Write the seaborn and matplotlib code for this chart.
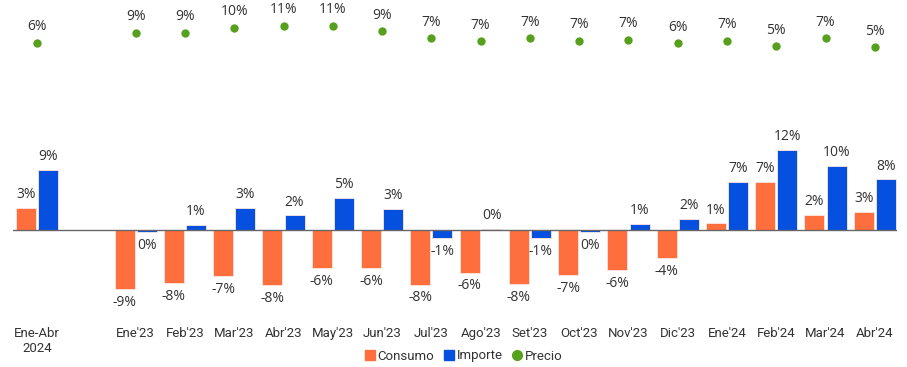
import matplotlib
matplotlib.use("Agg")
import matplotlib.pyplot as plt
import seaborn as sns
import pandas as pd
from matplotlib.lines import Line2D

# datos (variacion % interanual)
periodos = ["Ene-Abr\n2024", "Ene'23", "Feb'23", "Mar'23", "Abr'23", "May'23", "Jun'23",
            "Jul'23", "Ago'23", "Set'23", "Oct'23", "Nov'23", "Dic'23",
            "Ene'24", "Feb'24", "Mar'24", "Abr'24"]
consumo = [3.3, -8.9, -8.0, -6.9, -8.3, -5.7, -5.7, -8.2, -6.4, -8.1, -6.8, -6.0, -4.2,
           1.0, 7.2, 2.3, 2.7]
importe = [9.0, -0.3, 0.8, 3.3, 2.2, 4.8, 3.2, -1.2, 0.2, -1.2, -0.3, 0.9, 1.7,
           7.2, 12.0, 9.6, 7.6]
precio = [6.1, 9.0, 9.0, 10.4, 11.0, 11.0, 9.3, 7.3, 6.6, 7.3, 6.7, 7.0, 5.9,
          6.7, 5.1, 7.4, 4.8]

NARANJA = "#FF6E3D"
AZUL = "#0650E0"
VERDE = "#56A01E"
TEXTO = "#333333"

# hueco vacio entre el acumulado y los meses
orden = [periodos[0], " "] + periodos[1:]

df = pd.DataFrame({
    "periodo": periodos * 2,
    "valor": consumo + importe,
    "serie": ["Consumo"] * len(periodos) + ["Importe"] * len(periodos),
})
df_precio = pd.DataFrame({"periodo": periodos, "precio": precio})

sns.set_style("white")
plt.rcParams["font.family"] = ["Open Sans", "DejaVu Sans"]

fig = plt.figure(figsize=(9.07, 3.67), dpi=100)
ax = fig.add_axes([13 / 907, 1 - 310 / 367, 884 / 907, 310 / 367])

sns.barplot(data=df, x="periodo", y="valor", hue="serie", order=orden,
            hue_order=["Consumo", "Importe"], palette=[NARANJA, AZUL],
            saturation=1, width=0.9, gap=0.1, linewidth=0.6, edgecolor="#FFE8E0",
            legend=False, ax=ax)

for cont in ax.containers:
    etiquetas = [f"{int(round(b.get_height()))}%" for b in cont]
    ax.bar_label(cont, labels=etiquetas, padding=4, fontsize=10, color=TEXTO)

ax.axhline(0, color="#666666", linewidth=1)
ax.set_ylim(-12, 34.5)
ax.set_yticks([])
ax.set_xlabel("")
ax.set_ylabel("")
ax.tick_params(axis="x", length=0, pad=12, labelsize=9.5, labelcolor=TEXTO)
for t in ax.get_xticklabels():
    t.set_fontfamily(["Roboto", "DejaVu Sans"])
sns.despine(ax=ax, left=True, bottom=True)

# precio en eje secundario
ax2 = ax.twinx()
sns.stripplot(data=df_precio, x="periodo", y="precio", order=orden, color=VERDE,
              jitter=False, size=6, linewidth=0, ax=ax2)
for p, v in zip(periodos, precio):
    ax2.annotate(f"{int(round(v))}%", (orden.index(p), v), xytext=(0, 6),
                 textcoords="offset points", ha="center", va="bottom",
                 fontsize=10, color=TEXTO)
ax2.set_ylim(-70.3, 18.3)
ax2.axis("off")

ax.set_xlim(-0.49, 17.45)
ax.set_xticks(range(len(orden)))
ax.set_xticklabels(orden)

handles = [
    Line2D([], [], marker="s", linestyle="", color=NARANJA, markersize=7),
    Line2D([], [], marker="s", linestyle="", color=AZUL, markersize=7),
    Line2D([], [], marker="o", linestyle="", color=VERDE, markersize=7),
]
fig.legend(handles, ["Consumo", "Importe", "Precio"], loc="center",
           bbox_to_anchor=(463 / 907, 1 - 356 / 367), ncol=3, frameon=False,
           handletextpad=0.1, columnspacing=0.6, handlelength=1,
           prop={"family": "Roboto", "size": 9.5}, labelcolor=TEXTO)

fig.savefig("out.png", dpi=100)
